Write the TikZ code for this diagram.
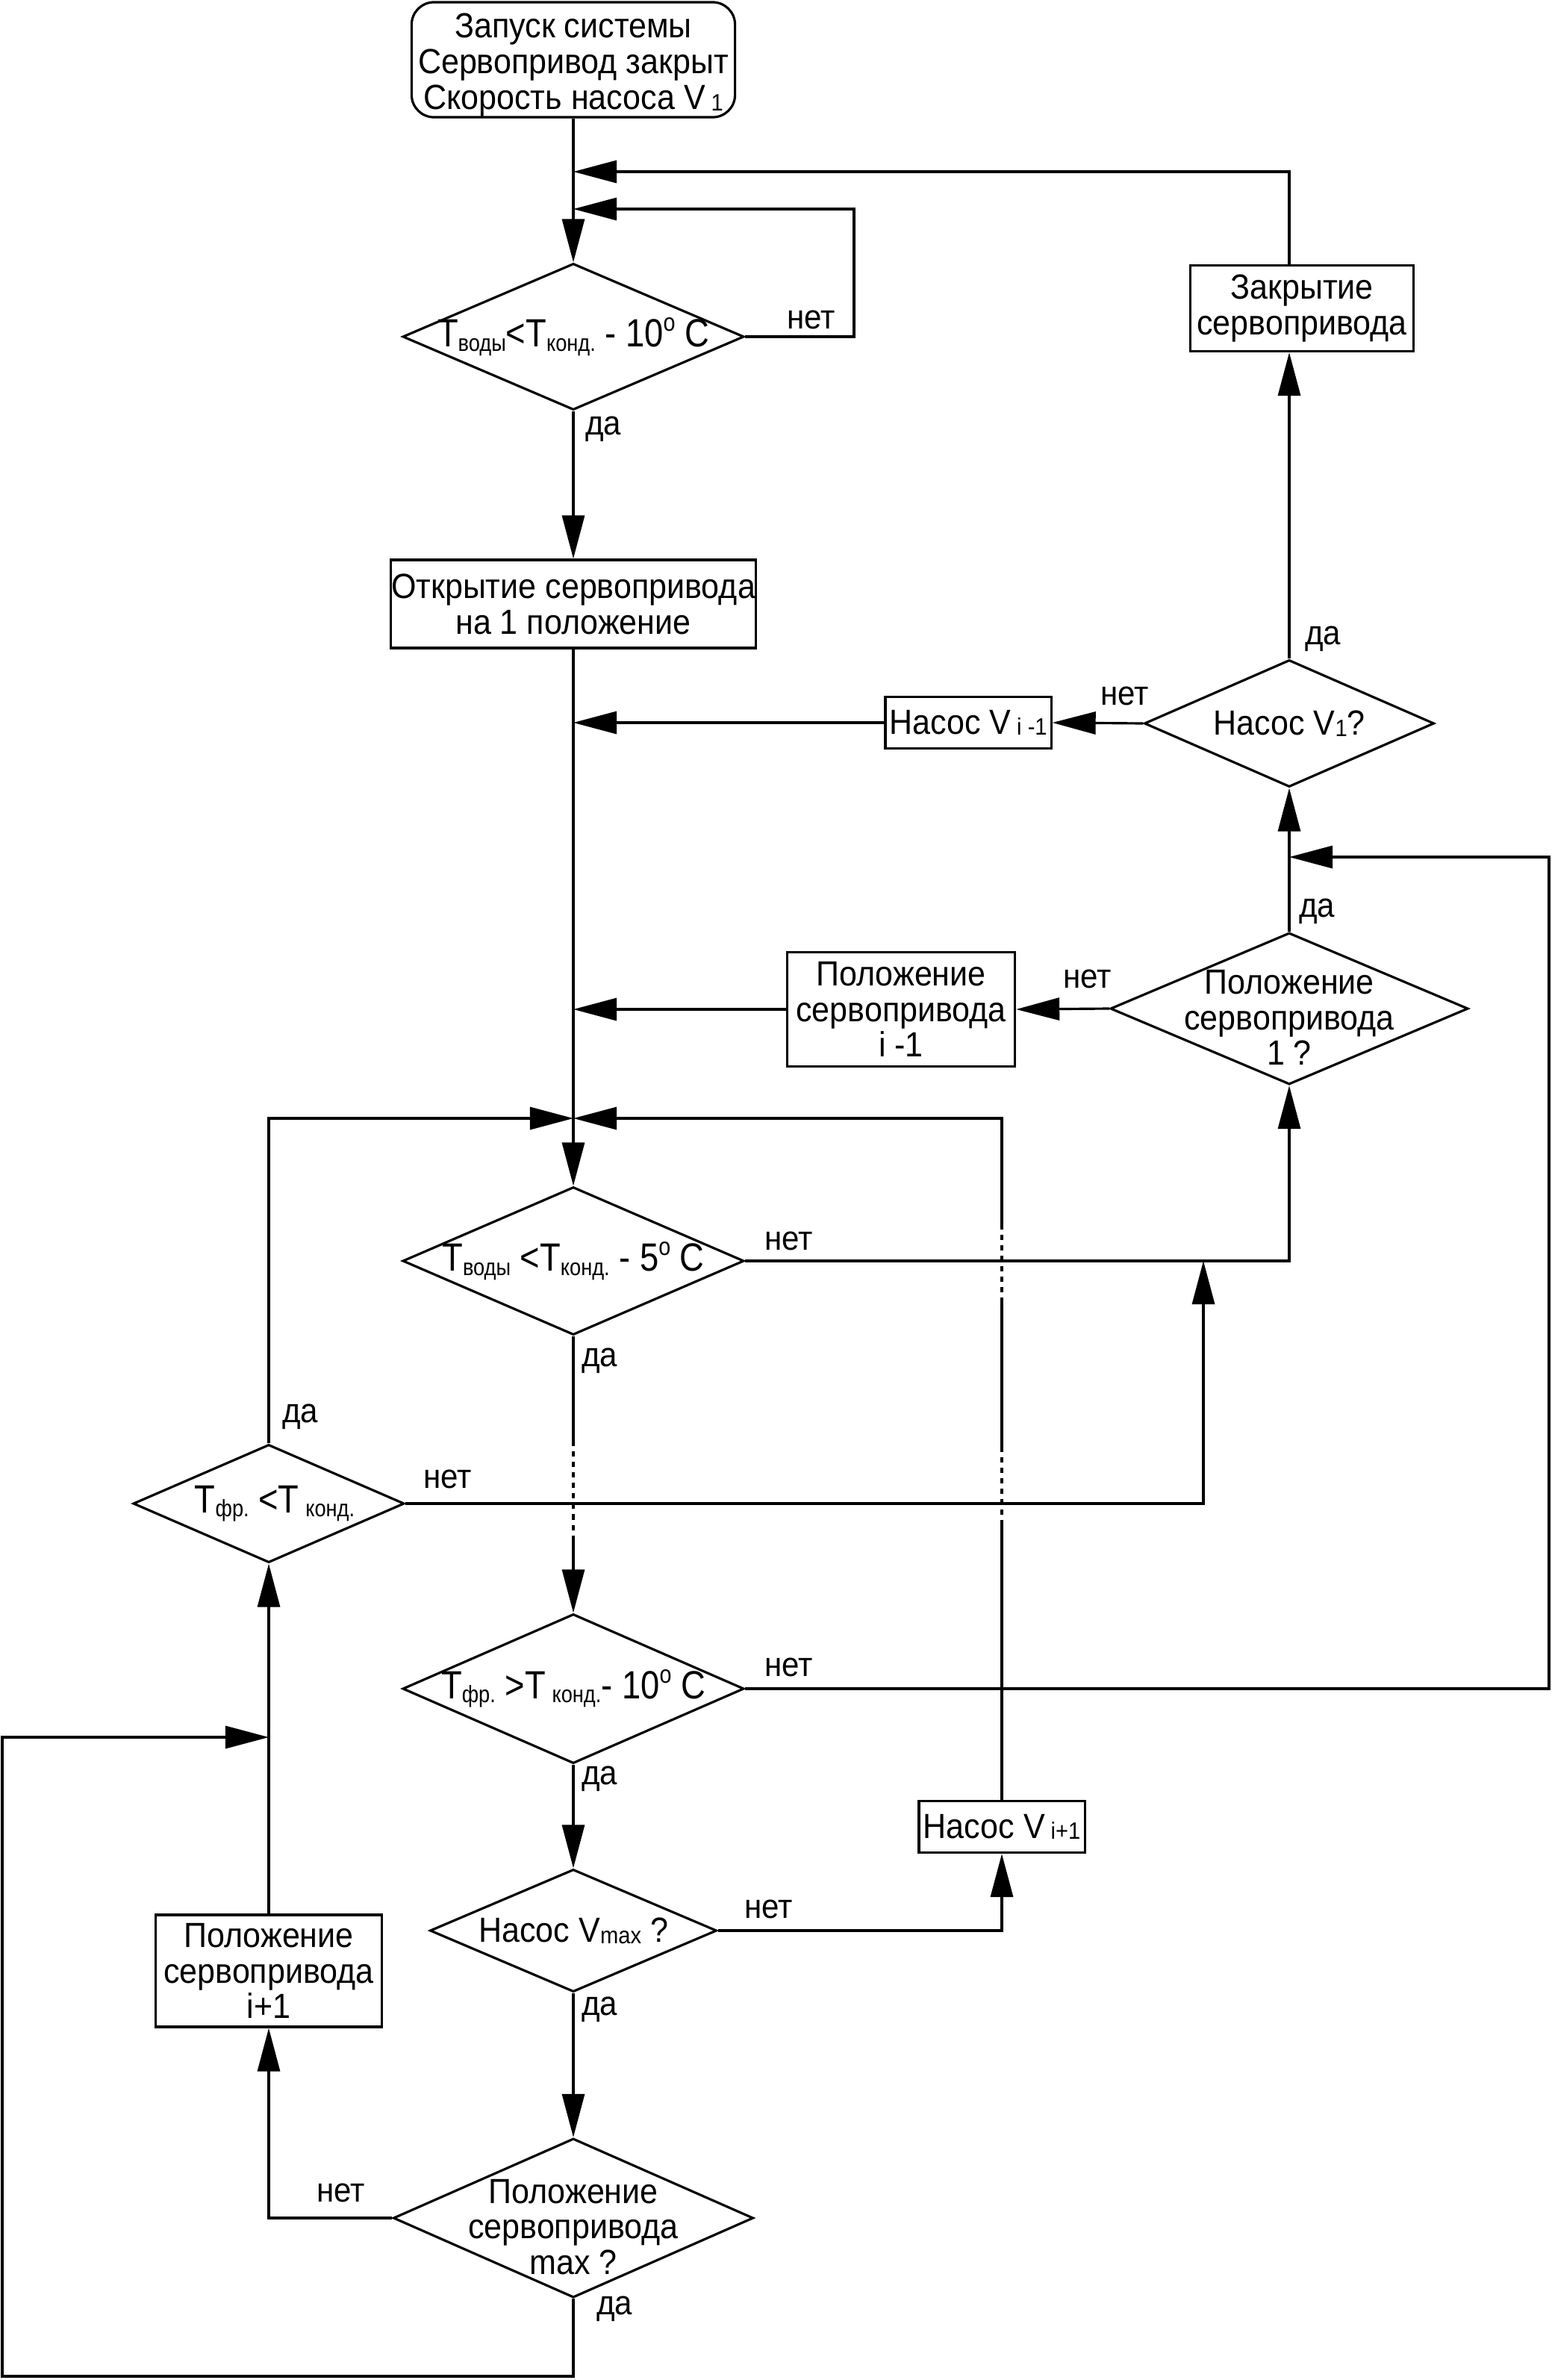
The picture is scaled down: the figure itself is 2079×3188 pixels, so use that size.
\documentclass[tikz,border=0pt]{standalone}
\usepackage{fontspec}
\setmainfont{Liberation Sans}[FakeStretch=0.92]
\newfontfamily\condf{Liberation Sans}[FakeStretch=0.86]
\usetikzlibrary{shapes.geometric,arrows.meta,calc}
\newcommand{\fsub}[1]{\raisebox{-1.5pt}{\fontsize{9}{9}\selectfont #1}}
\newcommand{\fdeg}{\raisebox{6pt}{\fontsize{9.5}{9.5}\selectfont o}}
\newcommand{\bsub}[1]{\raisebox{-0.5pt}{\fontsize{9}{9}\selectfont #1}}
\begin{document}
\begin{tikzpicture}[x=0.01cm,y=-0.01cm,line width=0.9pt,
  box/.style={draw,rectangle,inner sep=0pt,align=center,font=\fontsize{13.3}{13.6}\selectfont},
  dia/.style={draw,diamond,inner sep=0pt},
  dtext/.style={inner sep=0pt,align=center,font=\fontsize{13.3}{13.6}\selectfont},
  formula/.style={inner sep=0pt,font=\condf\fontsize{15}{15}\selectfont},
  lbl/.style={inner sep=0pt,font=\fontsize{13}{13}\selectfont},
  arr/.style={-{Triangle[length=0.58cm,width=0.3cm]}},
  dots/.style={dash pattern=on 2pt off 2pt}]
\useasboundingbox (0,0) rectangle (2079,3188);

% ---------------- nodes ----------------
\node[draw,rectangle,rounded corners=0.3cm,minimum width=4.33cm,minimum height=1.54cm] (start) at (768,80) {};
\node[dtext] (tstart) at (768,87)
  {Запуск системы\\Сервопривод закрыт\\Скорость насоса V\,\bsub{1}};

\node[dia,minimum width=4.57cm,minimum height=1.96cm] (d1) at (768,451) {};
\node[formula] (t1) at (d1) {T\fsub{воды}<T\fsub{конд.} - 10\fdeg\ C};

\node[box,minimum width=4.88cm,minimum height=1.18cm] (open) at (768,809)
  {Открытие сервопривода\\на 1 положение};

\node[dia,minimum width=4.57cm,minimum height=1.98cm] (d2) at (768,1689) {};
\node[formula] (t2) at (d2) {T\fsub{воды} <T\fsub{конд.} - 5\fdeg\ C};

\node[dia,minimum width=3.63cm,minimum height=1.58cm] (dfr) at (360,2014) {};
\node[formula] (tfr) at ($(dfr)+(8,0)$) {T\fsub{фр.} <T\,\fsub{конд.}};

\node[dia,minimum width=4.57cm,minimum height=2.0cm] (d3) at (768,2262) {};
\node[formula] (t3) at (d3) {T\fsub{фр.} >T\,\fsub{конд.}- 10\fdeg\ C};

\node[dia,minimum width=3.84cm,minimum height=1.64cm] (d4) at (768,2586) {};
\node[dtext] (t4) at (d4) {Насос V\bsub{max} ?};

\node[dia,minimum width=4.82cm,minimum height=2.13cm] (d5) at (768,2971) {};
\node[dtext] (t5) at ($(d5)+(0,12)$) {Положение\\сервопривода\\max ?};

\node[box,minimum width=3.03cm,minimum height=1.5cm] (pi1) at (360,2640)
  {Положение\\сервопривода\\i+1};

\node[box,minimum width=2.22cm,minimum height=0.69cm] (vi1) at (1342,2447)
  {Насос V\,\bsub{i+1}};

\node[box,minimum width=2.99cm,minimum height=1.15cm] (close) at (1744,413)
  {Закрытие\\сервопривода};

\node[dia,minimum width=3.88cm,minimum height=1.70cm] (v1) at (1727,969) {};
\node[dtext] (tv1) at (v1) {Насос V\bsub{1}?};

\node[box,minimum width=2.22cm,minimum height=0.69cm] (vim1) at (1297,968)
  {Насос V\,\bsub{i -1}};

\node[dia,minimum width=4.79cm,minimum height=2.03cm] (p1) at (1727,1351) {};
\node[dtext] (tp1) at ($(p1)+(0,12)$) {Положение\\сервопривода\\1 ?};

\node[box,minimum width=3.05cm,minimum height=1.53cm] (pim1) at (1207,1352)
  {Положение\\сервопривода\\i -1};

% ---------------- labels ----------------
\node[lbl] (l1n) at (1087,428) {нет};
\node[lbl] (l1d) at (808,575) {да};
\node[lbl] (l2n) at (1057,1662) {нет};
\node[lbl] (l2d) at (803,1823) {да};
\node[lbl] (lfrd) at (402,1898) {да};
\node[lbl] (lfrn) at (600,1981) {нет};
\node[lbl] (l3n) at (1057,2233) {нет};
\node[lbl] (l3d) at (803,2383) {да};
\node[lbl] (l4n) at (1030,2557) {нет};
\node[lbl] (l4d) at (803,2692) {да};
\node[lbl] (l5n) at (457,2937) {нет};
\node[lbl] (l5d) at (823,3093) {да};
\node[lbl] (lv1d) at (1772,856) {да};
\node[lbl] (lv1n) at (1507,932) {нет};
\node[lbl] (lp1d) at (1764,1221) {да};
\node[lbl] (lp1n) at (1457,1311) {нет};

% ---------------- coordinates ----------------
\coordinate (jA) at (768,230);
\coordinate (jB) at (768,280);
\coordinate (jvim1) at (768,968);
\coordinate (jpim1) at (768,1352);
\coordinate (jmid) at (768,1498);
\coordinate (jright) at (1727,1148);
\coordinate (jnet) at (1612,1689);
\coordinate (jloop) at (360,2327);
\coordinate (m1) at (768,1930);
\coordinate (m2) at (768,2060);
\coordinate (r1) at (2075,2262);
\coordinate (r2) at (2075,1148);
\coordinate (b1) at (768,3183);
\coordinate (b2) at (3,3183);
\coordinate (b3) at (3,2327);
\coordinate (s1) at (1342,2043);
\coordinate (s2) at (1342,1940);
\coordinate (s3) at (1342,1745);
\coordinate (s4) at (1342,1640);
\coordinate (s5) at (1342,1498);
\coordinate (c1) at (1144,451);

% ---------------- connectors ----------------
\draw[arr] (start.south) -- (d1.north);
\draw[arr] (close.north -| v1.north) |- (jA);
\draw[arr] (d1.east) -- (c1) |- (jB);
\draw[arr] (d1.south) -- (open.north);
\draw[arr] (open.south) -- (d2.north);
\draw[arr] (vim1.west) -- (jvim1);
\draw[arr] (v1.west) -- (vim1.east);
\draw[arr] (pim1.west) -- (jpim1);
\draw[arr] (p1.west) -- (pim1.east);
\draw[arr] (p1.north) -- (v1.south);
\draw[arr] (v1.north) -- (v1.north |- close.south);
\draw[arr] (d2.east) -| (p1.south);
\draw[arr] (dfr.east) -| (jnet);
\draw[arr] (dfr.north) |- (jmid);
\draw (vi1.north) -- (s1);
\draw[dots] (s1) -- (s2);
\draw (s2) -- (s3);
\draw[dots] (s3) -- (s4);
\draw[arr] (s4) -- (s5) -- (jmid);
\draw (d2.south) -- (m1);
\draw[dots] (m1) -- (m2);
\draw[arr] (m2) -- (d3.north);
\draw[arr] (d3.east) -- (r1) -- (r2) -- (jright);
\draw[arr] (d3.south) -- (d4.north);
\draw[arr] (d4.east) -| (vi1.south);
\draw[arr] (d4.south) -- (d5.north);
\draw[arr] (d5.west) -| (pi1.south);
\draw[arr] (pi1.north) -- (dfr.south);
\draw[arr] (d5.south) -- (b1) -- (b2) -- (b3) -- (jloop);
\end{tikzpicture}
\end{document}
